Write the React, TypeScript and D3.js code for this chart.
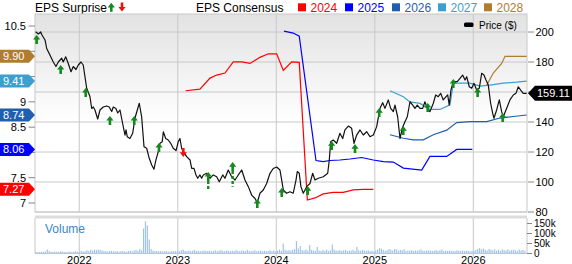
import React from "react";
import * as d3 from "d3";

// ---------- data ----------
const yearTicks = [2022, 2023, 2024, 2025, 2026];
const priceTicks = [80, 100, 120, 140, 160, 180, 200];
const epsTicks = [7, 7.5, 8, 8.5, 9, 9.5, 10, 10.5];
const volumeTicks = [0, 50, 100, 150];
const volumeTickLabels = ["0", "50k", "100k", "150k"];

// [decimal year, price $]
const priceSeries: [number, number][] = [
  [2021.557, 200.2], [2021.584, 198.7], [2021.608, 200], [2021.621, 198], [2021.652, 194.7],
  [2021.669, 189], [2021.702, 184.7], [2021.736, 180], [2021.763, 177], [2021.787, 180],
  [2021.821, 182.5], [2021.837, 180], [2021.862, 183.5], [2021.888, 179], [2021.916, 173.5],
  [2021.939, 177], [2021.966, 175], [2021.99, 178], [2022.017, 180], [2022.04, 178],
  [2022.058, 170], [2022.075, 162.5], [2022.108, 157], [2022.126, 149], [2022.142, 150],
  [2022.159, 148], [2022.187, 142], [2022.21, 148], [2022.243, 150], [2022.278, 150.7],
  [2022.304, 150], [2022.329, 147], [2022.345, 150], [2022.372, 149], [2022.39, 146],
  [2022.413, 148], [2022.44, 139], [2022.464, 131.3], [2022.474, 134.7], [2022.487, 130.2],
  [2022.514, 129], [2022.542, 132.5], [2022.565, 142.5], [2022.589, 148], [2022.609, 152.5],
  [2022.633, 143.5], [2022.657, 123.5], [2022.684, 122.5], [2022.71, 115.8], [2022.735, 111.3],
  [2022.758, 108.5], [2022.778, 114.7], [2022.802, 120.2], [2022.819, 125.8], [2022.842, 126.9],
  [2022.853, 133.5], [2022.877, 129], [2022.903, 128], [2022.928, 125.8], [2022.954, 122.5],
  [2022.982, 120.9], [2023.005, 126.9], [2023.022, 129], [2023.039, 122.5], [2023.056, 120.2],
  [2023.09, 116.9], [2023.124, 114.7], [2023.141, 109.1], [2023.164, 109.1], [2023.185, 104.7],
  [2023.202, 102.5], [2023.225, 104.7], [2023.242, 102.5], [2023.259, 104.7], [2023.293, 105.8],
  [2023.327, 102.5], [2023.36, 104.7], [2023.395, 103.5], [2023.421, 100.2], [2023.456, 104.7],
  [2023.479, 102.5], [2023.512, 108], [2023.547, 103.5], [2023.581, 101.3], [2023.614, 104.7],
  [2023.649, 108], [2023.682, 101.3], [2023.716, 96.9], [2023.75, 91.3], [2023.784, 89],
  [2023.807, 86.2], [2023.834, 92.5], [2023.868, 94.7], [2023.902, 99], [2023.936, 105.8],
  [2023.969, 109], [2024.004, 110], [2024.037, 108], [2024.055, 101.3], [2024.071, 94.7],
  [2024.105, 92.5], [2024.139, 93.5], [2024.172, 92.5], [2024.2, 101.3], [2024.213, 107],
  [2024.233, 105.8], [2024.25, 96.9], [2024.274, 92.5], [2024.308, 96.9], [2024.342, 99],
  [2024.369, 105.8], [2024.393, 101.3], [2024.426, 102.5], [2024.477, 103.5], [2024.522, 105.8],
  [2024.538, 114.7], [2024.552, 126.9], [2024.578, 128], [2024.613, 125.8], [2024.646, 132.5],
  [2024.674, 129], [2024.697, 134.7], [2024.731, 137.3], [2024.765, 135.8], [2024.789, 125.8],
  [2024.816, 131.3], [2024.85, 134.7], [2024.883, 131.3], [2024.918, 133.5], [2024.951, 130.2],
  [2024.985, 131.3], [2025.019, 136.9], [2025.053, 149.1], [2025.08, 152.9], [2025.103, 149.1],
  [2025.137, 154.7], [2025.161, 149.1], [2025.188, 146.9], [2025.205, 151.3], [2025.232, 143.5],
  [2025.256, 129], [2025.279, 135.8], [2025.306, 140.2], [2025.33, 143.5], [2025.357, 153.5],
  [2025.385, 151.3], [2025.408, 149.1], [2025.431, 151.3], [2025.459, 149.1], [2025.486, 149.1],
  [2025.509, 153.5], [2025.533, 149.1], [2025.56, 146.9], [2025.594, 152.5], [2025.618, 158],
  [2025.644, 156.9], [2025.669, 159.1], [2025.695, 154.7], [2025.723, 156.9], [2025.74, 158],
  [2025.756, 151.3], [2025.773, 161.3], [2025.791, 165.8], [2025.814, 166.9], [2025.837, 166.9],
  [2025.865, 169.1], [2025.892, 171.3], [2025.916, 168], [2025.933, 170.2], [2025.959, 163.5],
  [2025.984, 162.5], [2026.007, 165.8], [2026.034, 161.3], [2026.061, 162.5], [2026.085, 172.5],
  [2026.108, 171.3], [2026.129, 168], [2026.152, 164.7], [2026.176, 152.5], [2026.197, 145.8],
  [2026.21, 142.5], [2026.237, 148], [2026.264, 154.7], [2026.288, 146.9], [2026.304, 143.5],
  [2026.339, 149.1], [2026.372, 154.7], [2026.406, 158], [2026.433, 159.1], [2026.457, 163.5],
  [2026.481, 161.3], [2026.507, 159.1], [2026.542, 159.11],
];
const lastPrice = 159.11;

// EPS consensus series: [decimal year, EPS]
const eps2024: [number, number][] = [
  [2023.08, 9.22], [2023.225, 9.25], [2023.327, 9.47], [2023.395, 9.53], [2023.479, 9.57],
  [2023.563, 9.79], [2023.649, 9.79], [2023.733, 9.76], [2023.834, 9.88], [2023.919, 9.95],
  [2024.004, 9.95], [2024.071, 9.62], [2024.156, 9.79], [2024.233, 9.78], [2024.315, 7.06],
  [2024.393, 7.1], [2024.477, 7.18], [2024.578, 7.21], [2024.68, 7.21], [2024.782, 7.26],
  [2024.883, 7.27], [2024.985, 7.27],
];
const eps2025: [number, number][] = [
  [2024.078, 10.4], [2024.172, 10.36], [2024.233, 10.3], [2024.403, 7.84], [2024.477, 7.82],
  [2024.545, 7.84], [2024.646, 7.85], [2024.748, 7.87], [2024.867, 7.9], [2024.985, 7.85],
  [2025.086, 7.82], [2025.188, 7.81], [2025.29, 7.69], [2025.476, 7.65], [2025.56, 7.92],
  [2025.73, 7.92], [2025.831, 8.06], [2025.99, 8.06],
];
const eps2026: [number, number][] = [
  [2025.154, 8.35], [2025.29, 8.28], [2025.391, 8.25], [2025.493, 8.25], [2025.594, 8.35],
  [2025.73, 8.44], [2025.831, 8.59], [2025.966, 8.61], [2026.136, 8.61], [2026.271, 8.68],
  [2026.406, 8.71], [2026.542, 8.74],
];
const eps2027: [number, number][] = [
  [2025.154, 9.22], [2025.29, 9.1], [2025.357, 9.0], [2025.459, 8.97], [2025.56, 8.85],
  [2025.662, 8.85], [2025.763, 8.94], [2025.797, 9.37], [2025.966, 9.37], [2026.068, 9.31],
  [2026.169, 9.33], [2026.304, 9.37], [2026.44, 9.39], [2026.542, 9.41],
];
const eps2028: [number, number][] = [
  [2026.136, 9.33], [2026.203, 9.57], [2026.288, 9.76], [2026.322, 9.9], [2026.44, 9.9],
  [2026.542, 9.9],
];
const consensusYears = ["2024", "2025", "2026", "2027", "2028"];
const consensusColors = ["#ff0000", "#0000ff", "#1f5fae", "#3c9fd0", "#b07c2e"];
const consensusSeries = [eps2024, eps2025, eps2026, eps2027, eps2028];
const consensusLast = [7.27, 8.06, 8.74, 9.41, 9.9];

// EPS surprise markers: date, price at arrow tip, beat(true)/miss(false), dashed stem end (price) or null
const surpriseDates = [
  2021.567, 2021.811, 2022.065, 2022.311, 2022.558, 2022.809, 2023.056, 2023.309, 2023.557, 2023.807,
  2024.055, 2024.319, 2024.562, 2024.799, 2025.045, 2025.289, 2025.537, 2025.797, 2026.044, 2026.298,
];
const surpriseTips = [
  198, 178, 162.7, 144, 144, 126, 116.7, 106.7, 113.3, 88.7,
  96, 97.3, 127.3, 125.3, 149.3, 137.3, 152.7, 168.7, 162.7, 146,
];
const surpriseBeat = [
  true, true, true, true, true, true, false, true, true, true,
  true, true, true, true, true, true, true, true, true, true,
];
const surpriseStemEnd: (number | null)[] = [
  null, null, null, null, null, null, null, 94, 96.9, null,
  null, null, null, null, null, null, null, null, null, null,
];

// weekly volume (thousands), first week 2021-07-23
const volumeStart = 2021.56;
const volumeWeekly = [
  8, 7, 8, 9, 8, 10, 20, 12, 9, 8,
  10, 9, 8, 11, 9, 8, 7, 9, 10, 8,
  9, 12, 8, 9, 13, 10, 11, 16, 12, 18,
  14, 19, 17, 20, 18, 15, 12, 11, 10, 12,
  13, 11, 10, 12, 9, 11, 13, 10, 9, 12,
  14, 11, 15, 18, 13, 22, 16, 125, 161, 141,
  70, 22, 14, 12, 13, 11, 12, 10, 11, 12,
  10, 9, 13, 11, 12, 14, 11, 16, 20, 13,
  12, 15, 11, 14, 18, 12, 13, 11, 12, 15,
  13, 12, 14, 11, 13, 16, 12, 14, 18, 13,
  12, 15, 13, 11, 14, 12, 17, 13, 12, 15,
  14, 12, 18, 13, 11, 14, 16, 12, 13, 15,
  11, 14, 12, 13, 17, 12, 15, 11, 14, 20,
  13, 50, 18, 15, 17, 14, 19, 22, 62, 25,
  37, 17, 15, 20, 14, 42, 18, 16, 13, 33,
  15, 13, 17, 14, 19, 12, 16, 45, 20, 15,
  14, 17, 13, 16, 18, 12, 15, 14, 19, 13,
  33, 16, 14, 18, 15, 13, 17, 12, 14, 10,
  15, 20, 27, 24, 18, 13, 16, 22, 19, 15,
  23, 21, 14, 18, 16, 22, 13, 15, 14, 16,
  13, 15, 14, 17, 20, 14, 13, 16, 15, 14,
  12, 14, 17, 13, 16, 20, 12, 14, 13, 15,
  14, 13, 12, 16, 14, 13, 15, 12, 14, 13,
  11, 12, 14, 17, 23, 27, 20, 25, 18, 14,
  22, 19, 16, 21, 14, 18, 13, 20, 17, 15,
  21, 14, 17, 19, 16, 13, 20, 15, 18, 14,
];

// ---------- layout ----------
const W = 572;
const H = 264;
const L = 35;
const R = 527;
const TOP = 14;
const PB = 212;
const VT = 218;
const VB = 253.5;
const FONT = "'Liberation Sans', Arial, Helvetica, sans-serif";
const GRID = "#c8c8c8";
const GREEN = "#14891e";
const RED = "#ee1111";

function arrowPath(cx: number, tip: number, up: boolean) {
  const s = up ? 1 : -1;
  const p = [
    [0, 0], [3.6, 4.6], [1.3, 4.6], [1.3, 9], [-1.3, 9], [-1.3, 4.6], [-3.6, 4.6],
  ];
  return "M" + p.map(([a, b]) => `${cx + a},${tip + s * b}`).join("L") + "Z";
}

export default function App() {
  const x = d3.scaleLinear().domain([2021.5503, 2026.5452]).range([L, R]);
  const yP = d3.scaleLinear().domain([80, 200]).range([PB, 32]);
  const yE = d3.scaleLinear().domain([7, 10.5]).range([203, 26]);
  const yV = d3.scaleLinear().domain([0, 150]).range([VB, 223.5]);

  const priceLine = d3
    .line<[number, number]>()
    .x((d) => x(d[0]))
    .y((d) => yP(d[1]))
    .curve(d3.curveLinear);
  const epsLine = d3
    .line<[number, number]>()
    .x((d) => x(d[0]))
    .y((d) => yE(d[1]));

  const legendX = [298, 345, 392, 438, 484];
  const tagYs = consensusLast.map((v) => yE(v));
  const priceTagY = yP(lastPrice);

  return (
    <svg
      width={W}
      height={H}
      viewBox={`0 0 ${W} ${H}`}
      style={{ position: "absolute", left: 0, top: 0, background: "#fff" }}
      fontFamily={FONT}
    >
      <defs>
        <linearGradient id="bg" x1="0" y1="0" x2="0" y2="1">
          <stop offset="0" stopColor="#e2e2e2" />
          <stop offset="0.55" stopColor="#ffffff" />
          <stop offset="1" stopColor="#ffffff" />
        </linearGradient>
        <clipPath id="plotClip">
          <rect x={L} y={TOP} width={R - L} height={PB - TOP} />
        </clipPath>
      </defs>

      {/* title legends */}
      <text x={35} y={12} fontSize={12} fill="#000">EPS Surprise</text>
      <path d={arrowPath(111.3, 2.8, true)} fill={GREEN} />
      <path d={arrowPath(122, 11.6, false)} fill={RED} />
      <text x={196} y={12} fontSize={12} fill="#000">EPS Consensus</text>
      {consensusYears.map((yr, i) => (
        <g key={yr}>
          <rect x={legendX[i]} y={3.3} width={8} height={8} fill={consensusColors[i]} />
          <text x={legendX[i] + 12.5} y={12} fontSize={12} fill={consensusColors[i]}>
            {yr}
          </text>
        </g>
      ))}

      {/* plot background */}
      <rect x={L} y={TOP} width={R - L} height={PB - TOP} fill="url(#bg)" />

      {/* grid */}
      {priceTicks.map((p) => (
        <line key={p} x1={L} x2={R} y1={yP(p)} y2={yP(p)} stroke={GRID} strokeWidth={1} />
      ))}
      {yearTicks.map((yr) => (
        <g key={yr}>
          <line x1={x(yr)} x2={x(yr)} y1={TOP} y2={PB} stroke={GRID} />
          <line x1={x(yr)} x2={x(yr)} y1={VT} y2={VB + 3} stroke={GRID} />
        </g>
      ))}
      <rect x={L} y={TOP} width={R - L} height={PB - TOP} fill="none" stroke={GRID} />

      {/* price legend */}
      <rect x={464} y={22.5} width={9.5} height={4.5} rx={1.5} fill="#000" />
      <text x={479} y={28.8} fontSize={10} fill="#000">Price ($)</text>

      {/* consensus lines */}
      <g clipPath="url(#plotClip)">
        {consensusSeries.map((s, i) => (
          <path key={i} d={epsLine(s) || ""} fill="none" stroke={consensusColors[i]} strokeWidth={1.2} />
        ))}
        <path d={priceLine(priceSeries) || ""} fill="none" stroke="#111" strokeWidth={1.2} strokeLinejoin="round" />
      </g>

      {/* surprise arrows */}
      {surpriseDates.map((t, i) => {
        const cx = x(t);
        const tip = yP(surpriseTips[i]);
        const up = surpriseBeat[i];
        const stem = surpriseStemEnd[i];
        return (
          <g key={i}>
            {stem !== null && (
              <line
                x1={cx}
                x2={cx}
                y1={tip + 9}
                y2={yP(stem)}
                stroke={GREEN}
                strokeWidth={2.4}
                strokeDasharray="3,2"
              />
            )}
            <path d={arrowPath(cx, tip, up)} fill={up ? GREEN : RED} />
          </g>
        );
      })}

      {/* right price axis */}
      {priceTicks.map((p) => (
        <g key={p}>
          <line x1={R + 1} x2={R + 7} y1={yP(p)} y2={yP(p)} stroke="#888" />
          {Math.abs(yP(p) - priceTagY) > 10 && (
            <text x={535.5} y={yP(p) + 4} fontSize={11} fill="#000">{p}</text>
          )}
        </g>
      ))}

      {/* left EPS axis */}
      {epsTicks.map((v) => (
        <g key={v}>
          <line x1={28.5} x2={L} y1={yE(v)} y2={yE(v)} stroke="#888" />
          {tagYs.every((ty) => Math.abs(ty - yE(v)) > 10) && (
            <text x={26} y={yE(v) + 4} fontSize={11} textAnchor="end" fill="#000">{v}</text>
          )}
        </g>
      ))}

      {/* left EPS tags */}
      {consensusLast.map((v, i) => {
        const cy = yE(v);
        return (
          <g key={i}>
            <path
              d={`M0,${cy - 6.5}L29,${cy - 6.5}L35,${cy}L29,${cy + 6.5}L0,${cy + 6.5}Z`}
              fill={consensusColors[i]}
            />
            <text x={3} y={cy + 4} fontSize={11} fill="#fff">{v.toFixed(2)}</text>
          </g>
        );
      })}

      {/* price tag */}
      <g>
        <path
          d={`M528,${priceTagY}L535,${priceTagY - 7.5}L572,${priceTagY - 7.5}L572,${priceTagY + 7.5}L535,${priceTagY + 7.5}Z`}
          fill="#000"
        />
        <text x={537} y={priceTagY + 4} fontSize={11} fill="#fff">{lastPrice.toFixed(2)}</text>
      </g>

      {/* volume panel */}
      <line x1={L} x2={R} y1={VT - 1} y2={VT - 1} stroke="#dcdcdc" strokeWidth={3} />
      <line x1={L} x2={L} y1={VT} y2={VB} stroke={GRID} />
      <line x1={R} x2={R} y1={VT} y2={VB} stroke={GRID} />
      <line x1={L} x2={R} y1={VB} y2={VB} stroke={GRID} />
      {volumeWeekly.map((v, i) => {
        const t = volumeStart + (i * 7) / 365.25;
        const bx = x(t);
        if (bx > R - 1) return null;
        return <rect key={i} x={bx - 0.6} y={yV(v)} width={1.2} height={VB - yV(v)} fill="#9fc4e8" />;
      })}
      <text x={45} y={233} fontSize={12} fill="#3a86c8">Volume</text>
      {volumeTicks.map((v, i) => (
        <g key={v}>
          <line x1={R} x2={R + 5} y1={yV(v)} y2={yV(v)} stroke="#888" />
          <text x={534} y={yV(v) + 3.5} fontSize={10} fill="#000">{volumeTickLabels[i]}</text>
        </g>
      ))}

      {/* x axis labels */}
      {yearTicks.map((yr) => (
        <text key={yr} x={x(yr)} y={263.5} fontSize={11} textAnchor="middle" fill="#000">
          {yr}
        </text>
      ))}
    </svg>
  );
}
